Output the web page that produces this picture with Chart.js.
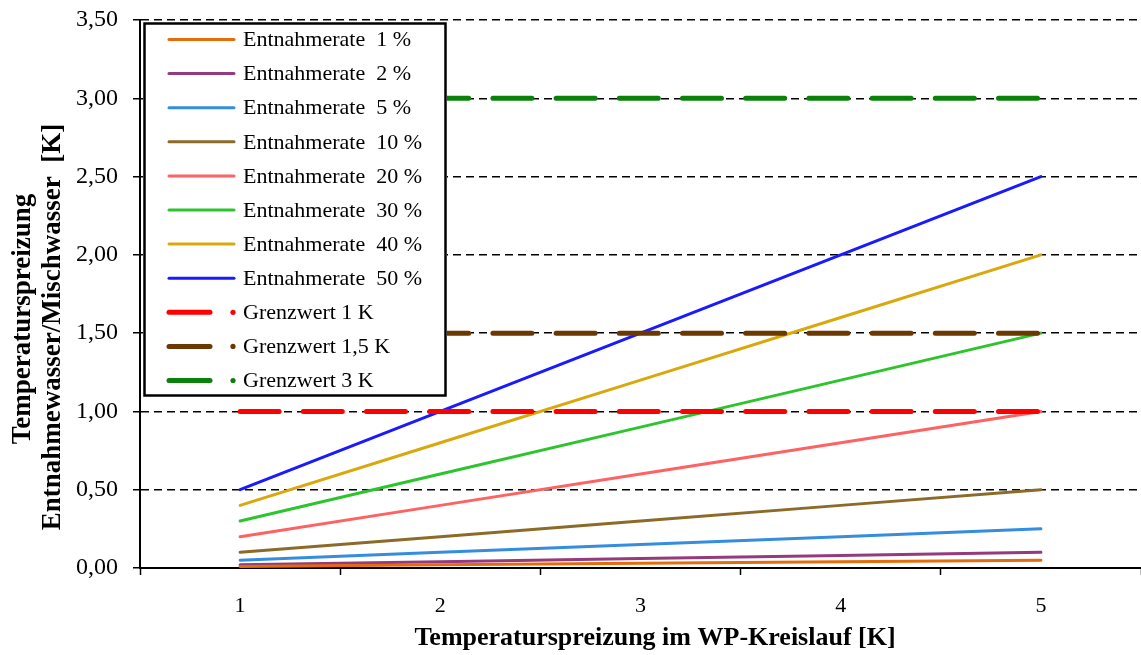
<!DOCTYPE html>
<html>
<head>
<meta charset="utf-8">
<script src="https://cdn.jsdelivr.net/npm/chart.js@4.4.1/dist/chart.umd.min.js"></script>
<style>
  html, body { margin: 0; padding: 0; background: #fff; }
  #wrap { width: 1141px; height: 655px; }
</style>
</head>
<body>
<div id="wrap"><canvas id="chart"></canvas></div>
<script>
// Temperaturspreizung im WP-Kreislauf [K]
const spreizung = ['1', '2', '3', '4', '5'];

// Entnahmerate -> Spreizung Entnahmewasser/Mischwasser [K]
const rate1  = [0.01, 0.02, 0.03, 0.04, 0.05];
const rate2  = [0.02, 0.04, 0.06, 0.08, 0.10];
const rate5  = [0.05, 0.10, 0.15, 0.20, 0.25];
const rate10 = [0.10, 0.20, 0.30, 0.40, 0.50];
const rate20 = [0.20, 0.40, 0.60, 0.80, 1.00];
const rate30 = [0.30, 0.60, 0.90, 1.20, 1.50];
const rate40 = [0.40, 0.80, 1.20, 1.60, 2.00];
const rate50 = [0.50, 1.00, 1.50, 2.00, 2.50];

// Grenzwerte
const grenz1  = [1, 1, 1, 1, 1];
const grenz15 = [1.5, 1.5, 1.5, 1.5, 1.5];
const grenz3  = [3, 3, 3, 3, 3];

const yMin = 0, yMax = 3.5, yStep = 0.5;

const SERIF = "'Liberation Serif', 'Times New Roman', serif";

const rateLine = (label, data, color) => ({
  label, data,
  borderColor: color, backgroundColor: color,
  borderWidth: 3, pointRadius: 0, tension: 0,
  borderCapStyle: 'round', order: 1, kind: 'solid'
});
const grenzLine = (label, data, color) => ({
  label, data,
  borderColor: color, backgroundColor: color,
  borderWidth: 5, pointRadius: 0, tension: 0,
  borderDash: [39, 24.2], borderCapStyle: 'round', order: 0, kind: 'dash'
});

const datasets = [
  rateLine('Entnahmerate  1 %', rate1, '#E46C0A'),
  rateLine('Entnahmerate  2 %', rate2, '#953A7E'),
  rateLine('Entnahmerate  5 %', rate5, '#358DE0'),
  rateLine('Entnahmerate  10 %', rate10, '#8C6A28'),
  rateLine('Entnahmerate  20 %', rate20, '#FF6262'),
  rateLine('Entnahmerate  30 %', rate30, '#2EC42E'),
  rateLine('Entnahmerate  40 %', rate40, '#D9A80C'),
  rateLine('Entnahmerate  50 %', rate50, '#1A1AFF'),
  grenzLine('Grenzwert 1 K', grenz1, '#FF0000'),
  grenzLine('Grenzwert 1,5 K', grenz15, '#6B3800'),
  grenzLine('Grenzwert 3 K', grenz3, '#0A820A')
];

// Legende im Diagramm + Achsentitel
const boxLegend = {
  id: 'boxLegend',
  afterDraw(chart) {
    const ctx = chart.ctx;
    const ca = chart.chartArea;
    const left = ca.left + 3, top = ca.top + 2, w = 304, h = 375;
    ctx.save();
    ctx.fillStyle = '#fff';
    ctx.fillRect(left, top, w, h);
    ctx.strokeStyle = '#000';
    ctx.lineWidth = 2.5;
    ctx.strokeRect(left + 1.5, top + 1.5, w - 3, h - 3);

    ctx.font = '22px ' + SERIF;
    ctx.textBaseline = 'middle';
    ctx.textAlign = 'left';
    chart.data.datasets.forEach((ds, i) => {
      const y = top + 17.5 + i * 34.1;
      ctx.strokeStyle = ds.borderColor;
      ctx.fillStyle = ds.borderColor;
      ctx.lineCap = 'round';
      if (ds.kind === 'solid') {
        ctx.lineWidth = 3;
        ctx.beginPath();
        ctx.moveTo(left + 26, y);
        ctx.lineTo(left + 91, y);
        ctx.stroke();
      } else {
        ctx.lineWidth = 5;
        ctx.beginPath();
        ctx.moveTo(left + 26, y);
        ctx.lineTo(left + 67, y);
        ctx.stroke();
        ctx.beginPath();
        ctx.arc(left + 90, y, 2.6, 0, Math.PI * 2);
        ctx.fill();
      }
      ctx.fillStyle = '#000';
      ctx.fillText(ds.label, left + 100, y + 1);
    });

    // Achsentitel
    ctx.font = 'bold 26px ' + SERIF;
    ctx.textAlign = 'center';
    ctx.fillText('Temperaturspreizung im WP-Kreislauf [K]', 655, 638);
    ctx.font = 'bold 27px ' + SERIF;
    ctx.save();
    ctx.translate(23, 319);
    ctx.rotate(-Math.PI / 2);
    ctx.fillText('Temperaturspreizung', 0, 0);
    ctx.restore();
    ctx.save();
    ctx.translate(53, 327);
    ctx.rotate(-Math.PI / 2);
    ctx.fillText('Entnahmewasser/Mischwasser  [K]', 0, 0);
    ctx.restore();
    ctx.restore();
  }
};

new Chart(document.getElementById('chart'), {
  type: 'line',
  data: { labels: spreizung, datasets },
  options: {
    responsive: true,
    maintainAspectRatio: false,
    animation: false,
    layout: { padding: { top: 20, right: 0, left: 0, bottom: 0 } },
    plugins: {
      legend: { display: false },
      tooltip: { enabled: false }
    },
    scales: {
      x: {
        type: 'category',
        offset: true,
        afterFit: s => { s.height = 87; s.paddingLeft = 0; s.paddingRight = 0; },
        grid: {
          offset: true,
          drawOnChartArea: false,
          drawTicks: true,
          tickLength: 7,
          tickColor: '#000',
          tickWidth: 1.5
        },
        border: { display: true, color: '#000', width: 2 },
        ticks: {
          color: '#000',
          padding: 18,
          maxRotation: 0,
          font: { family: SERIF, size: 22 }
        }
      },
      y: {
        min: yMin,
        max: yMax,
        afterFit: s => { s.width = 140; s.paddingTop = 0; s.paddingBottom = 0; },
        grid: {
          color: '#000',
          lineWidth: 1.5,
          drawTicks: true,
          tickLength: 7,
          tickColor: '#000',
          tickWidth: 1.5,
          tickBorderDash: [1, 0]
        },
        border: { display: true, color: '#000', width: 2, dash: [8, 5] },
        ticks: {
          stepSize: yStep,
          color: '#000',
          padding: 15,
          font: { family: SERIF, size: 24 },
          callback: v => v.toFixed(2).replace('.', ',')
        }
      }
    }
  },
  plugins: [boxLegend]
});
</script>
</body>
</html>
